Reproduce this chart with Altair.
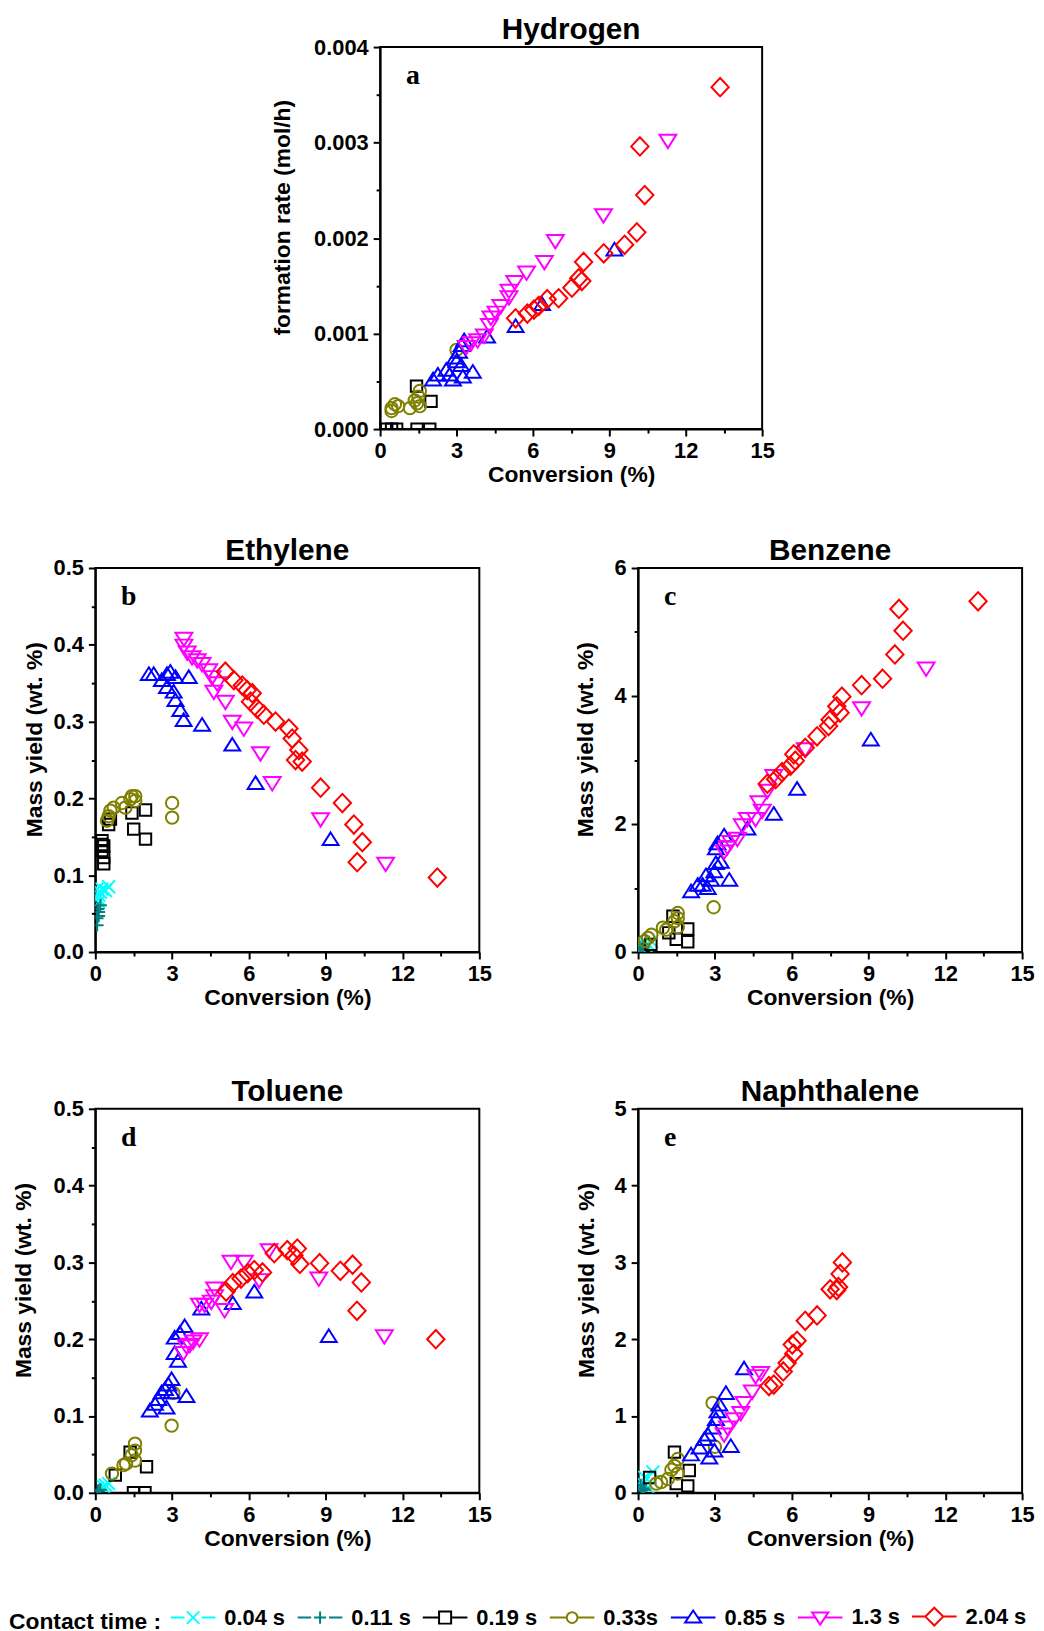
import altair as alt
import pandas as pd

SERIES = ["0.04 s", "0.11 s", "0.19 s", "0.33s", "0.85 s", "1.3 s", "2.04 s"]
COLORS = ["#00FFFF", "#008080", "#000000", "#808000", "#0000FF", "#FF00FF", "#FF0000"]

# marker outlines (unit = 5 px at size 100)
SHAPES = [
    "M-1.3,-1.3L1.3,1.3M-1.3,1.3L1.3,-1.3",
    "M-1.3,0L1.3,0M0,-1.3L0,1.3",
    "M-1.15,-1.15L1.15,-1.15L1.15,1.15L-1.15,1.15Z",
    "M-1.25,0A1.25,1.25,0,1,0,1.25,0A1.25,1.25,0,1,0,-1.25,0Z",
    "M0,-1.35L1.6,1.2L-1.6,1.2Z",
    "M-1.7,-1.2L1.7,-1.2L0,1.5Z",
    "M0,-1.85L1.75,0L0,1.85L-1.75,0Z",
]
# legend glyphs: line + marker (unit = 22.5 px at size 2025)
LEGEND_SHAPES = [
    "M-1,0L-0.38,0M0.38,0L1,0M-0.28,-0.28L0.28,0.28M-0.28,0.28L0.28,-0.28",
    "M-1,0L-0.4,0M0.4,0L1,0M-0.27,0L0.27,0M0,-0.27L0,0.27",
    "M-1,0L-0.27,0M0.27,0L1,0M-0.27,-0.27L0.27,-0.27L0.27,0.27L-0.27,0.27Z",
    "M-1,0L-0.24,0M0.24,0L1,0M-0.24,0A0.24,0.24,0,1,0,0.24,0A0.24,0.24,0,1,0,-0.24,0Z",
    "M-1,0L-0.21,0M0.21,0L1,0M0,-0.32L0.36,0.22L-0.36,0.22Z",
    "M-1,0L-0.21,0M0.21,0L1,0M-0.36,-0.22L0.36,-0.22L0,0.32Z",
    "M-1,0L-0.4,0M0.4,0L1,0M0,-0.4L0.4,0L0,0.4L-0.4,0Z",
]

# ---------------- (a) Hydrogen formation rate ----------------
a_019 = [(0.26, 0), (0.45, 0), (0.65, 0), (1.45, 0), (1.95, 0), (1.43, 0.00045), (2.0, 0.00029)]
a_033 = [(3.0, 0.00083), (1.56, 0.0004), (1.5, 0.00034), (1.56, 0.00024), (1.36, 0.0003), (1.17, 0.00022),
         (0.71, 0.00024), (0.58, 0.00026), (0.45, 0.00022), (0.45, 0.00019), (1.45, 0.00027)]
a_085 = [(9.2, 0.00188), (6.36, 0.00131), (5.32, 0.00108), (4.2, 0.00097), (3.3, 0.00093), (3.1, 0.00081),
         (3.0, 0.00071), (3.18, 0.00067), (3.64, 0.0006), (2.73, 0.00057), (2.6, 0.00062), (2.27, 0.00057),
         (2.08, 0.00052), (2.86, 0.00052), (3.25, 0.00055), (2.95, 0.00075), (3.2, 0.00088)]
a_13 = [(11.3, 0.00302), (8.77, 0.00224), (6.88, 0.00197), (6.45, 0.00175), (5.75, 0.00164), (5.29, 0.00154),
        (5.06, 0.00145), (5.06, 0.00138), (4.74, 0.00129), (4.55, 0.00122), (4.35, 0.00117), (4.29, 0.00109),
        (4.09, 0.00098), (3.83, 0.00093), (3.57, 0.0009), (3.38, 0.00086)]
a_204 = [(13.35, 0.00358), (10.2, 0.00296), (10.39, 0.00245), (10.08, 0.00206), (9.6, 0.00193), (8.78, 0.00184),
         (7.99, 0.00175), (7.92, 0.00155), (7.8, 0.00158), (7.53, 0.00148), (7.01, 0.00137), (6.56, 0.00136),
         (6.23, 0.00129), (6.04, 0.00125), (5.78, 0.00121), (5.32, 0.00116)]

# ---------------- (b) Ethylene ----------------
b_004 = [(0.52, 0.085), (0.4, 0.08), (0.26, 0.082), (0.2, 0.078), (0.13, 0.074), (0.13, 0.065), (0.07, 0.082), (0.1, 0.07)]
b_011 = [(0.2, 0.061), (0.13, 0.052), (0.07, 0.044), (0.07, 0.035), (0.13, 0.047), (0.1, 0.056)]
b_019 = [(1.96, 0.185), (1.43, 0.181), (1.5, 0.16), (1.96, 0.147), (0.59, 0.173), (0.52, 0.166), (0.26, 0.145),
         (0.33, 0.138), (0.26, 0.132), (0.33, 0.123), (0.33, 0.115), (0.26, 0.14)]
b_033 = [(1.56, 0.203), (1.43, 0.203), (1.37, 0.199), (1.04, 0.194), (1.17, 0.188), (1.56, 0.197), (0.72, 0.188),
         (0.59, 0.184), (0.52, 0.177), (0.46, 0.171), (3.0, 0.194), (3.0, 0.175)]
b_085 = [(2.09, 0.362), (2.28, 0.362), (2.8, 0.362), (2.93, 0.365), (3.13, 0.358), (3.65, 0.358), (2.6, 0.354),
         (2.8, 0.345), (3.06, 0.339), (3.13, 0.328), (3.32, 0.315), (3.45, 0.302), (4.17, 0.296), (5.35, 0.27),
         (6.26, 0.22), (9.19, 0.147)]
b_13 = [(3.46, 0.408), (3.46, 0.399), (3.59, 0.39), (3.78, 0.384), (3.98, 0.38), (4.17, 0.375), (4.43, 0.367),
        (4.56, 0.358), (4.76, 0.35), (4.63, 0.339), (5.08, 0.326), (5.35, 0.3), (5.8, 0.291), (6.45, 0.259),
        (6.91, 0.22), (8.8, 0.173), (11.34, 0.115)]
b_204 = [(5.08, 0.365), (5.41, 0.354), (5.74, 0.347), (5.93, 0.341), (6.13, 0.337), (6.06, 0.326), (6.32, 0.317),
         (6.58, 0.309), (7.04, 0.3), (7.56, 0.291), (7.69, 0.278), (7.95, 0.263), (7.82, 0.25), (8.08, 0.248),
         (8.8, 0.214), (9.65, 0.194), (10.1, 0.166), (10.43, 0.143), (10.23, 0.117), (13.36, 0.097)]

# ---------------- (c) Benzene ----------------
c_004 = [(0.52, 0.17), (0.19, 0.14), (0.3, 0.1), (0.1, 0.06), (0.4, 0.12)]
c_011 = [(0.06, 0.07), (0.1, 0.04), (0.15, 0.05), (0.2, 0.08)]
c_019 = [(1.94, 0.36), (1.94, 0.16), (1.49, 0.2), (1.36, 0.56), (0.5, 0.12), (1.2, 0.3)]
c_033 = [(2.95, 0.7), (1.55, 0.61), (1.55, 0.53), (1.42, 0.48), (1.55, 0.39), (1.1, 0.35), (0.97, 0.38),
         (0.52, 0.27), (0.39, 0.22), (0.26, 0.17)]
c_085 = [(9.09, 3.32), (6.21, 2.55), (5.3, 2.16), (4.27, 1.93), (3.36, 1.82), (3.1, 1.7), (3.04, 1.62), (3.23, 1.41),
         (2.98, 1.26), (3.56, 1.13), (2.65, 1.2), (2.52, 1.05), (2.72, 1.0), (2.33, 1.05), (2.07, 0.95), (2.85, 1.13),
         (3.04, 1.39)]
c_13 = [(11.25, 4.43), (8.73, 3.81), (6.53, 3.17), (5.3, 2.75), (5.05, 2.52), (4.72, 2.34), (4.85, 2.21),
        (4.59, 2.08), (4.27, 2.08), (4.07, 1.98), (3.88, 1.77), (3.62, 1.72), (3.36, 1.57), (3.49, 1.64)]
c_204 = [(13.28, 5.48), (10.19, 5.36), (10.35, 5.02), (10.03, 4.65), (9.55, 4.27), (8.73, 4.17), (7.96, 3.99),
         (7.76, 3.84), (7.89, 3.74), (7.5, 3.63), (7.44, 3.53), (6.99, 3.37), (6.53, 3.19), (6.08, 3.09),
         (6.14, 2.99), (5.95, 2.91), (5.62, 2.81), (5.37, 2.7), (5.05, 2.63)]

# ---------------- (d) Toluene ----------------
d_004 = [(0.52, 0.012), (0.32, 0.008), (0.4, 0.01)]
d_011 = [(0.13, 0.003), (0.1, 0.002), (0.2, 0.004)]
d_019 = [(2.0, 0.034), (1.36, 0.053), (1.49, 0.0), (1.94, 0.0), (0.78, 0.023)]
d_033 = [(2.98, 0.0875), (1.55, 0.064), (1.55, 0.055), (1.42, 0.049), (1.55, 0.042), (1.1, 0.036), (1.2, 0.038),
         (0.65, 0.025), (3.05, 0.13)]
d_085 = [(9.12, 0.204), (6.21, 0.262), (5.37, 0.247), (4.14, 0.24), (3.49, 0.217), (3.3, 0.208), (3.1, 0.202),
         (3.1, 0.182), (3.23, 0.172), (2.98, 0.148), (2.85, 0.141), (2.72, 0.135), (2.98, 0.131), (3.56, 0.126),
         (2.59, 0.131), (2.46, 0.122), (2.13, 0.107), (2.78, 0.111), (2.33, 0.116)]
d_13 = [(11.29, 0.204), (8.73, 0.279), (6.79, 0.316), (6.4, 0.277), (5.82, 0.301), (5.3, 0.301), (5.05, 0.238),
        (4.66, 0.266), (4.66, 0.256), (4.53, 0.249), (4.27, 0.245), (4.07, 0.245), (4.07, 0.2), (3.82, 0.197),
        (3.69, 0.193), (3.43, 0.182), (3.56, 0.191)]
d_204 = [(13.3, 0.2), (10.22, 0.237), (10.39, 0.274), (10.05, 0.297), (9.57, 0.289), (8.76, 0.299), (7.99, 0.298),
         (7.89, 0.318), (7.76, 0.309), (7.5, 0.316), (6.99, 0.312), (6.53, 0.287), (6.21, 0.29), (5.95, 0.286),
         (5.69, 0.279), (5.37, 0.273), (5.11, 0.262)]

# ---------------- (e) Naphthalene ----------------
e_004 = [(0.58, 0.27), (0.26, 0.2), (0.19, 0.12), (0.39, 0.07)]
e_011 = [(0.13, 0.03), (0.2, 0.06), (0.1, 0.1), (0.25, 0.04)]
e_019 = [(1.42, 0.53), (2.0, 0.29), (1.94, 0.09), (1.49, 0.12), (0.45, 0.2)]
e_033 = [(2.91, 1.17), (1.55, 0.44), (1.42, 0.35), (1.55, 0.25), (1.16, 0.18), (0.9, 0.14), (0.71, 0.12),
         (1.3, 0.3), (3.0, 0.6)]
e_085 = [(4.14, 1.62), (3.43, 1.3), (3.17, 1.15), (3.1, 1.06), (3.04, 0.96), (2.91, 0.85), (2.72, 0.76),
         (2.59, 0.7), (2.4, 0.59), (2.07, 0.5), (2.78, 0.46), (2.98, 0.55), (3.62, 0.61)]
e_13 = [(4.79, 1.56), (4.59, 1.52), (4.46, 1.32), (4.14, 1.17), (4.01, 1.04), (3.75, 0.96), (3.49, 0.85),
        (3.36, 0.76)]
e_204 = [(7.98, 3.0), (7.89, 2.85), (7.83, 2.68), (7.5, 2.65), (7.76, 2.64), (6.99, 2.31), (6.53, 2.24),
         (6.21, 1.98), (6.02, 1.93), (6.08, 1.81), (5.82, 1.69), (5.67, 1.58), (5.3, 1.41), (5.11, 1.39)]

FONT = "Liberation Sans"
W, H = 387, 387
TRANSPARENT = alt.ViewBackground(stroke="transparent")


def build(series_lists):
    rows = []
    for i, (s, pts) in enumerate(zip(SERIES, series_lists)):
        for x, y in pts:
            rows.append({"conv": x, "val": y, "ct": s, "idx": i})
    return pd.DataFrame(rows)


def panel(series_lists, title, letter, ytitle, ymax, ymaj, ymin, yfmt, ytpad, w=W, h=H):
    df = build(series_lists)
    xvals = [i * 1.5 for i in range(11)]
    n = int(round(ymax / ymin))
    yvals = [round(i * ymin, 6) for i in range(n + 1)]
    xaxis = alt.Axis(values=xvals, format="d", title="Conversion (%)",
                     labelExpr="datum.value % 3 === 0 ? datum.label : ''",
                     tickSize={"condition": {"test": "datum.value % 3 !== 0", "value": 4}, "value": 7},
                     titlePadding=2)
    ytest = f"abs(datum.value / {ymaj} - round(datum.value / {ymaj})) > 0.01"
    yaxis = alt.Axis(values=yvals, format=yfmt, title=ytitle,
                     labelExpr=f"{ytest} ? '' : datum.label",
                     tickSize={"condition": {"test": ytest, "value": 4}, "value": 7},
                     titlePadding=ytpad, titleY=h / 2 - 21)
    pts = alt.Chart(df).mark_point(filled=False, strokeWidth=2, size=100, clip=True, opacity=1).encode(
        x=alt.X("conv:Q", scale=alt.Scale(domain=[0, 15], nice=False, zero=True), axis=xaxis),
        y=alt.Y("val:Q", scale=alt.Scale(domain=[0, ymax], nice=False, zero=True), axis=yaxis),
        color=alt.Color("ct:N", scale=alt.Scale(domain=SERIES, range=COLORS), legend=None),
        shape=alt.Shape("ct:N", scale=alt.Scale(domain=SERIES, range=SHAPES), legend=None),
        order=alt.Order("idx:Q"),
    )
    lab = alt.Chart(pd.DataFrame({"t": [letter]})).mark_text(
        font="Liberation Serif", fontWeight="bold", fontSize=28, align="left", baseline="alphabetic", color="black"
    ).encode(text="t:N", x=alt.value(26), y=alt.value(37))
    return alt.layer(pts, lab).properties(width=w, height=h, title=alt.Title(title))


pa = panel([[], [], a_019, a_033, a_085, a_13, a_204], "Hydrogen", "a", "formation rate (mol/h)",
           0.004, 0.001, 0.0005, ".3f", 19, w=385, h=385)
pb = panel([b_004, b_011, b_019, b_033, b_085, b_13, b_204], "Ethylene", "b", "Mass yield (wt. %)",
           0.5, 0.1, 0.05, ".1f", 7)
pc = panel([c_004, c_011, c_019, c_033, c_085, c_13, c_204], "Benzene", "c", "Mass yield (wt. %)",
           6, 2, 1, "d", 17)
pd_ = panel([d_004, d_011, d_019, d_033, d_085, d_13, d_204], "Toluene", "d", "Mass yield (wt. %)",
            0.5, 0.1, 0.05, ".1f", 18)
pe = panel([e_004, e_011, e_019, e_033, e_085, e_13, e_204], "Naphthalene", "e", "Mass yield (wt. %)",
           5, 1, 0.5, "d", 16)

LEGEND = alt.Legend(
    title="Contact time :", orient="none", legendX=-87, legendY=0, direction="horizontal", titleOrient="left",
    titleAnchor="middle",
    symbolSize=2025, symbolStrokeWidth=2, symbolOpacity=1, labelOffset=8, columnPadding=8, titlePadding=8,
    labelFontSize=22, labelFont=FONT, labelFontWeight="bold", labelColor="black",
    titleFontSize=23, titleFont=FONT, titleFontWeight="bold", titleColor="black",
    titleBaseline="top", titleLimit=400, labelLimit=200, columns=7,
)
leg = alt.Chart(pd.DataFrame({"ct": SERIES})).mark_point(opacity=0, filled=False, size=2025).encode(
    x=alt.value(0), y=alt.value(0),
    color=alt.Color("ct:N", scale=alt.Scale(domain=SERIES, range=COLORS), legend=LEGEND),
    shape=alt.Shape("ct:N", scale=alt.Scale(domain=SERIES, range=LEGEND_SHAPES), legend=LEGEND),
).properties(width=10, height=10, view=TRANSPARENT)

spacer = alt.Chart(pd.DataFrame({"v": [0]})).mark_point(opacity=0).encode(
    x=alt.value(0), y=alt.value(0)
).properties(width=127, height=385, view=TRANSPARENT)

IND = dict(x="independent", y="independent", color="independent", shape="independent")

row1 = alt.hconcat(spacer, pa, spacing=160, bounds="flush").resolve_scale(**IND)
row2 = alt.hconcat(pb, pc, spacing=160, bounds="flush").resolve_scale(**IND)
row3p = alt.hconcat(pd_, pe, spacing=160, bounds="flush").resolve_scale(**IND)
row3 = alt.vconcat(row3p, leg, spacing=32).resolve_scale(**IND)
lower = alt.vconcat(row2, row3, spacing=66).resolve_scale(**IND)

chart = alt.vconcat(row1, lower, spacing=48).resolve_scale(**IND).configure_view(
    stroke="black", strokeWidth=2
).configure_axis(
    grid=False, domainColor="black", domainWidth=2, tickColor="black", tickWidth=2,
    labelFont=FONT, labelFontSize=22, labelFontWeight="bold", labelColor="black", labelPadding=5,
    labelOverlap=False, labelFlush=False,
    titleFont=FONT, titleFontSize=23, titleFontWeight="bold", titleColor="black",
).configure_title(
    font=FONT, fontSize=30, fontWeight="bold", color="black", anchor="middle", offset=-9, baseline="alphabetic"
).properties(background="white", padding={"left": 0, "top": 0, "right": 0, "bottom": 5})

chart.save("out.html", embed_options={"renderer": "svg", "actions": False})
